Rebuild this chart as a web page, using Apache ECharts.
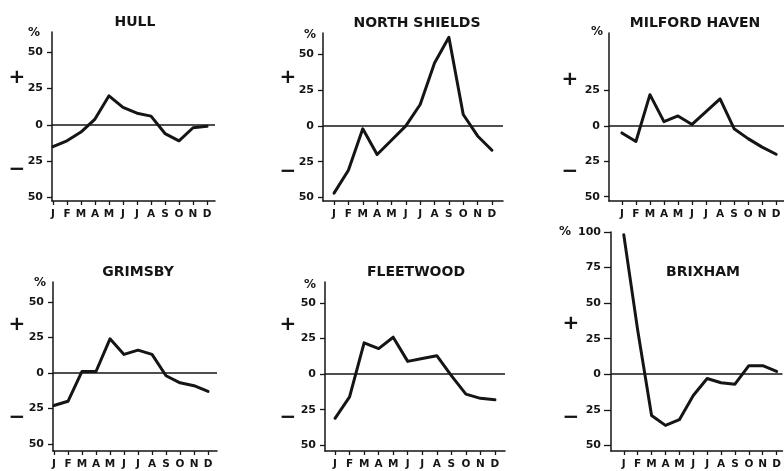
<!DOCTYPE html>
<html><head><meta charset="utf-8">
<script src="https://cdn.jsdelivr.net/npm/echarts@6/dist/echarts.min.js"></script>
<style>html,body{margin:0;padding:0;background:#fff}#c{width:784px;height:471px}</style>
</head><body><div id="c"></div>
<script>
const months = ['J','F','M','A','M','J','J','A','S','O','N','D'];
const hull = [-15,-11,-5,4,20,12,8,6,-6,-11,-2,-1];
const northShields = [-47,-31,-2,-20,-10,0,15,44,62,8,-7,-17];
const milfordHaven = [-5,-11,22,3,7,1,10,19,-2,-9,-15,-20];
const grimsby = [-23,-20,1,1,24,13,16,13,-2,-7,-9,-13];
const fleetwood = [-31,-16,22,18,26,9,11,13,-1,-14,-17,-18];
const brixham = [98,31,-29,-36,-32,-15,-3,-6,-7,6,6,2];
const ticksStd = [-50,-25,0,25,50];
const ticksMilford = [-50,-25,0,25];
const ticksBrixham = [-50,-25,0,25,50,75,100];

const panels = [
 {name:'HULL', data:hull, ticks:ticksStd, box:[52,32,215,201], xr:[-0.07,11.57], yr:[-52.5,64], title:[135,22], pct:[34,33], plus:[17,78], minus:[17,170], tl:5, lm:4},
 {name:'NORTH SHIELDS', data:northShields, ticks:ticksStd, box:[323,33,503,201], xr:[-0.77,11.77], yr:[-52.5,65], title:[417,23], pct:[310,35], plus:[288,78], minus:[288,172], tl:5, lm:4},
 {name:'MILFORD HAVEN', data:milfordHaven, ticks:ticksMilford, box:[609,33,786,201], xr:[-0.92,11.56], yr:[-53,65.5], title:[695,23], pct:[597,32], plus:[570,80], minus:[570,172], tl:5, lm:4},
 {name:'GRIMSBY', data:grimsby, ticks:ticksStd, box:[53,282,217,451], xr:[-0.07,11.64], yr:[-55,64], title:[138,272], pct:[40,283], plus:[17,325], minus:[17,418], tl:5, lm:4},
 {name:'FLEETWOOD', data:fleetwood, ticks:ticksStd, box:[325,282,505,451], xr:[-0.69,11.69], yr:[-54,64.8], title:[416,272], pct:[310,285], plus:[288,325], minus:[288,418], tl:5, lm:4},
 {name:'BRIXHAM', data:brixham, ticks:ticksBrixham, box:[611,232,786,451], xr:[-0.92,11.42], yr:[-54,100], title:[703,272], pct:[565,232], plus:[571,324], minus:[571,418], tl:7, lm:3}
];

const ink = '#151515';
const font = 'DejaVu Sans';
const monthIdx = months.map((m,i)=>i);
const grid=[], xAxis=[], yAxis=[], series=[], graphic=[];
panels.forEach((p,k)=>{
  const [l,t,r,b] = p.box;
  grid.push({left:l, top:t, width:r-l, height:b-t, containLabel:false});
  xAxis.push({type:'value', gridIndex:k, min:p.xr[0], max:p.xr[1],
    axisLine:{onZero:false, lineStyle:{color:ink, width:1.5}},
    axisTick:{show:true, length:4, lineStyle:{color:ink, width:1.3}, customValues:monthIdx},
    axisLabel:{color:ink, fontFamily:font, fontWeight:'bold', fontSize:10.5, margin:8, customValues:monthIdx,
      formatter:v=>months[Math.round(v)]||''},
    splitLine:{show:false}});
  yAxis.push({type:'value', gridIndex:k, min:p.yr[0], max:p.yr[1],
    axisLine:{show:true, onZero:false, lineStyle:{color:ink, width:1.5}},
    axisTick:{show:true, length:p.tl, lineStyle:{color:ink, width:1.3}, customValues:p.ticks},
    axisLabel:{color:ink, fontFamily:font, fontWeight:'bold', fontSize:11, margin:p.tl+p.lm, customValues:p.ticks,
      formatter:v=>String(Math.abs(v))},
    splitLine:{show:false}});
  series.push({type:'line', xAxisIndex:k, yAxisIndex:k, data:p.data.map((v,i)=>[i,v]),
    symbol:'none', lineStyle:{color:ink, width:3, join:'round', cap:'round'},
    markLine:{silent:true, symbol:'none', label:{show:false}, animation:false,
      lineStyle:{color:ink, width:1.5, type:'solid'}, data:[{yAxis:0}]}});
  graphic.push({type:'text', x:p.title[0], y:p.title[1], style:{text:p.name, fill:ink, font:'bold 14px "DejaVu Sans"', align:'center', verticalAlign:'middle'}});
  graphic.push({type:'text', x:p.pct[0], y:p.pct[1], style:{text:'%', fill:ink, font:'bold 12px "DejaVu Sans"', align:'center', verticalAlign:'middle'}});
  graphic.push({type:'text', x:p.plus[0], y:p.plus[1], style:{text:'+', fill:ink, font:'bold 20px "DejaVu Sans"', align:'center', verticalAlign:'middle'}});
  graphic.push({type:'text', x:p.minus[0], y:p.minus[1], style:{text:'\u2212', fill:ink, font:'bold 20px "DejaVu Sans"', align:'center', verticalAlign:'middle'}});
});

const chart = echarts.init(document.getElementById('c'), null, {renderer:'canvas'});
chart.setOption({animation:false, backgroundColor:'#fff', grid, xAxis, yAxis, series, graphic});
</script></body></html>
